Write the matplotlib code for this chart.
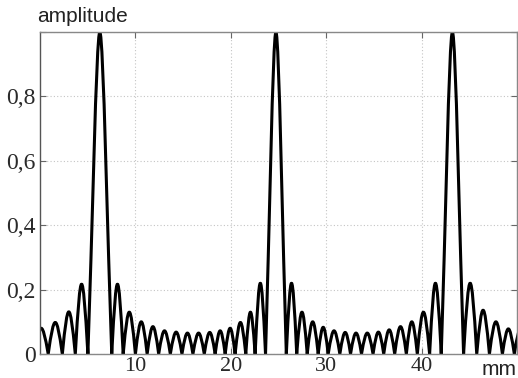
import matplotlib
matplotlib.use("Agg")
import matplotlib.pyplot as plt
from matplotlib.path import Path
from matplotlib.patches import PathPatch

# ---- data (x in mm) ----
# positions of the zeros of the pattern, left to right
null_mm = [-0.62, 0.86, 2.34, 3.70, 5.02,
           7.52, 8.72, 10.00, 11.23, 12.44, 13.66, 14.88, 16.03, 17.22, 18.36,
           19.41, 20.45, 21.57, 22.55, 23.64,
           25.82, 26.91, 28.01, 29.16, 30.21, 31.43, 32.55, 33.70, 34.91, 36.03,
           37.18, 38.40, 39.55, 40.84, 42.06,
           44.40, 45.78, 47.11, 48.47, 49.72, 51.08]
# peak amplitude of each lobe lying between two consecutive zeros
lobe_amp = [0.08, 0.098, 0.131, 0.217,
            1.0,
            0.217, 0.13, 0.10, 0.085, 0.072, 0.068, 0.065, 0.065, 0.067, 0.072,
            0.080, 0.098, 0.13, 0.22,
            1.0,
            0.22, 0.13, 0.10, 0.083, 0.072, 0.067, 0.065, 0.065, 0.068, 0.075,
            0.085, 0.10, 0.13, 0.22,
            1.0,
            0.22, 0.136, 0.10, 0.078, 0.08]

x_ticks = [10, 20, 30, 40]
x_tick_labels = ["10", "20", "30", "40"]
y_ticks = [0, 0.2, 0.4, 0.6, 0.8]
y_tick_labels = ["0", "0,2", "0,4", "0,6", "0,8"]
x_unit = "mm"
y_title = "amplitude"

# ---- figure ----
fig = plt.figure(figsize=(5.18, 3.78), dpi=100)
ax = fig.add_axes([40 / 518, 1 - 354 / 378, 477 / 518, 322 / 378])

verts, codes = [], []
for i, h in enumerate(lobe_amp):
    x0, x1 = null_mm[i], null_mm[i + 1]
    if not verts:
        verts.append((x0, 0.0)); codes.append(Path.MOVETO)
    if h >= 0.5:
        xc = 0.5 * (x0 + x1)
        w = 0.5 * (x1 - x0)
        verts += [(x0 + w / 3, h / 3), (xc - 0.3 * w, h), (xc, h)]
        verts += [(xc + 0.3 * w, h), (x1 - w / 3, h / 3), (x1, 0.0)]
        codes += [Path.CURVE4] * 6
    else:
        w = x1 - x0
        k = 4.0 / 3.0 * h
        verts += [(x0 + 0.424 * w, k), (x1 - 0.424 * w, k), (x1, 0.0)]
        codes += [Path.CURVE4] * 3

curve = PathPatch(Path(verts, codes), fill=False, edgecolor="black",
                  linewidth=2.2, joinstyle="round", capstyle="round")
ax.add_patch(curve)

ax.set_xlim(0, 50)
ax.set_ylim(0, 1.0)
ax.set_xticks(x_ticks + [50])
ax.set_xticklabels(x_tick_labels + [""])
ax.set_yticks(y_ticks + [1.0])
ax.set_yticklabels(y_tick_labels + [""])

for lab in ax.get_yticklabels():
    lab.set_fontfamily("Liberation Serif")
    lab.set_fontsize(17)
    lab.set_color("#2a2a2a")
for lab in ax.get_xticklabels():
    lab.set_fontfamily("Liberation Serif")
    lab.set_fontsize(16)
    lab.set_color("#2a2a2a")

ax.tick_params(direction="in", length=4, width=0.8, color="#666666",
               top=True, right=True, pad=3)
ax.tick_params(axis="x", pad=2)
for s in ax.spines.values():
    s.set_color("#888888")
    s.set_linewidth(1.0)
ax.spines["left"].set_color("#555555")

ax.grid(True, color="#c4c4c4", linestyle=(0, (1, 2)), linewidth=0.8)
ax.set_axisbelow(True)

ax.text(-0.005, 1.02, y_title, transform=ax.transAxes, ha="left", va="bottom",
        fontfamily="Liberation Sans", fontsize=15, color="#222222")
ax.text(1.0, -0.02, x_unit, transform=ax.transAxes, ha="right", va="top",
        fontfamily="Liberation Sans", fontsize=15, color="#222222")

fig.savefig("out.png", dpi=100)
